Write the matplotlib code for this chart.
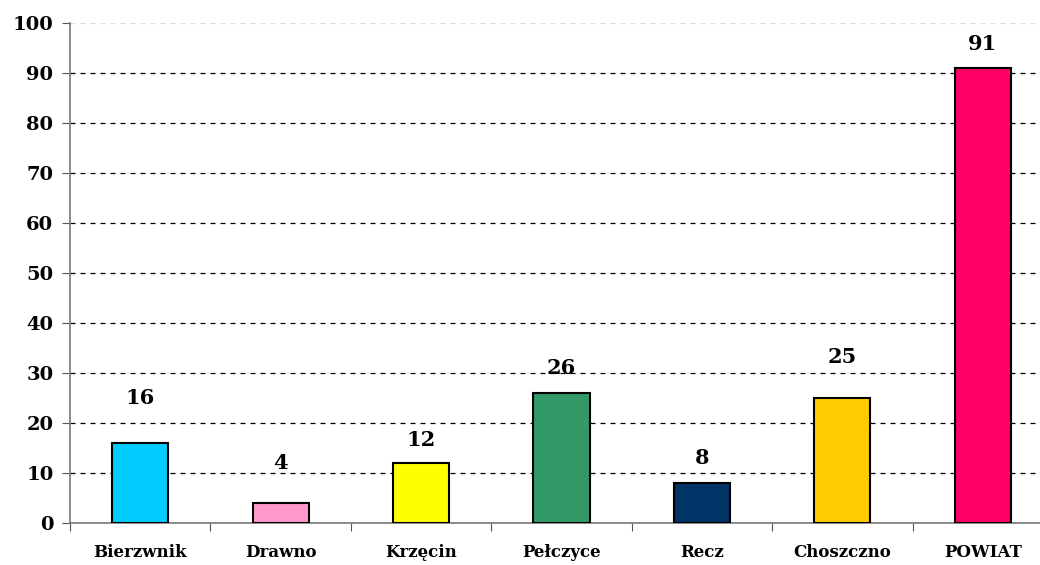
import matplotlib.pyplot as plt
import numpy as np

categories = ["Bierzwnik", "Drawno", "Krzęcin", "Pełczyce", "Recz", "Choszczno", "POWIAT"]
values = [16, 4, 12, 26, 8, 25, 91]
colors = ["#00CCFF", "#FF99CC", "#FFFF00", "#339966", "#003366", "#FFCC00", "#FF0066"]
label_pad = [9, 8, 4.6, 5, 5, 8.2, 4.8]

plt.rcParams["font.family"] = "DejaVu Serif"
plt.rcParams["font.weight"] = "bold"

fig = plt.figure(figsize=(10.4, 5.65), dpi=100)
ax = fig.add_axes([70 / 1040, 42 / 565, 983 / 1040, 500 / 565])

x = np.arange(len(categories))
ax.bar(x, values, width=0.40, color=colors, edgecolor="black", linewidth=1.5, zorder=3)

for xi, v, pad in zip(x, values, label_pad):
    ax.text(xi, v + pad, str(v), ha="center", va="center", fontsize=15, fontweight="bold")

ax.set_xlim(-0.5, len(categories) - 0.5)
ax.set_ylim(0, 100)
ax.set_yticks(range(0, 101, 10))
ax.tick_params(axis="y", labelsize=14, length=6, color="#555555", pad=6)
for t in range(10, 100, 10):
    ax.axhline(t, color="black", linestyle=(0, (4, 4)), linewidth=0.9, zorder=1)
ax.axhline(100, color="#dddddd", linestyle=(0, (4, 4)), linewidth=0.9, zorder=1)

ax.set_xticks(np.arange(-0.5, len(categories) - 0.4, 1.0))
ax.set_xticklabels([])
ax.set_xticks(x, minor=True)
ax.set_xticklabels(categories, minor=True, fontsize=12, fontweight="bold")
ax.tick_params(axis="x", which="major", length=6, color="#555555")
ax.tick_params(axis="x", which="minor", length=0, pad=15)

for s in ["top", "right"]:
    ax.spines[s].set_visible(False)
ax.spines["left"].set_color("#777777")
ax.spines["bottom"].set_color("#777777")
ax.spines["left"].set_linewidth(1.2)
ax.spines["bottom"].set_linewidth(1.2)

fig.savefig("out.png", dpi=100)
